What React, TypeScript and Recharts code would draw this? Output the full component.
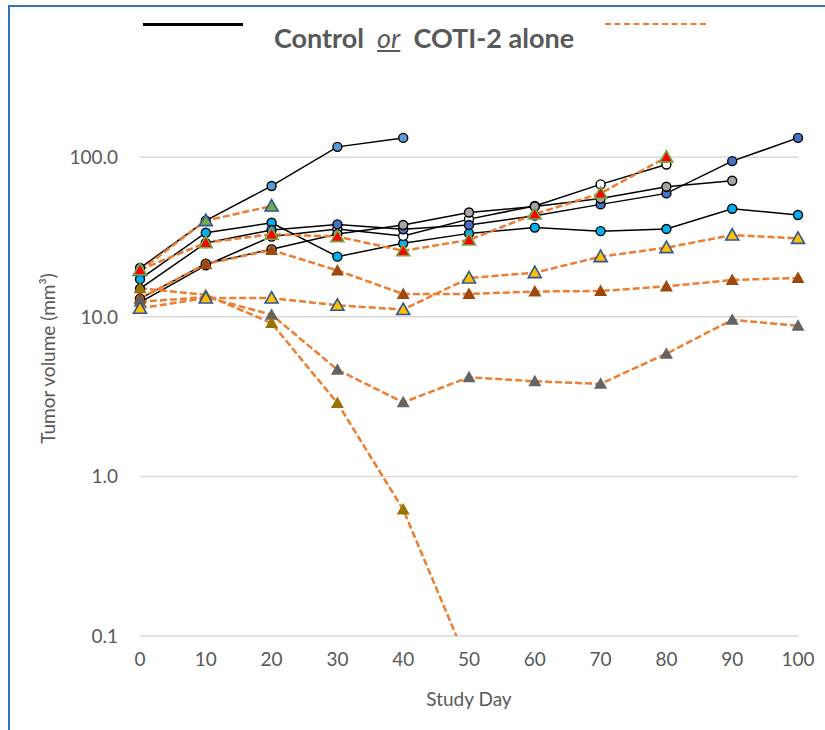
import { CartesianGrid, Line, LineChart, XAxis, YAxis } from "recharts";

// study days on the x axis
const days = [0, 10, 20, 30, 40, 50, 60, 70, 80, 90, 100];
const volumeTicks = [0.1, 1, 10, 100];

// control animals (solid black, circles)
const ctrlLightBlue = [20.2, 40, 66, 116, 132];
const ctrlCyan = [17.2, 33.6, 38.8, 23.8, 28.9, 33.3, 36.2, 34.4, 35.5, 47.5, 43.4];
const ctrlDarkBlue = [15, 29, 35, 37.9, 35.3, 37.6, 43, 50.6, 59.3, 94.4, 132];
const ctrlWhite = [12.3, 21, 31.8, 35.5, 32.1, 40.9, 49.5, 67.5, 90];
const ctrlGray = [13, 21.5, 26.5, 33, 37.6, 45, 49, 55, 65.3, 71.1];

// COTI-2 alone (dashed orange, triangles)
const cotiGreen = [19.5, 40, 49.4];
const cotiRed = [19.7, 29.1, 32.9, 31.8, 25.9, 30.3, 44, 59.3, 100];
const cotiBrown = [13, 21.4, 26.2, 19.5, 13.9, 13.9, 14.4, 14.5, 15.5, 17.0, 17.5];
const cotiGray = [12.4, 13.3, 10.3, 4.66, 2.91, 4.18, 3.94, 3.8, 5.87, 9.57, 8.78];
const cotiOlive = [15.1, 13.7, 9.13, 2.88, 0.62, 0.065];
const cotiYellow = [11.3, 13.1, 13.1, 11.8, 11.1, 17.5, 18.9, 23.8, 27.1, 32.5, 31.0];

type Series = {
  key: string;
  values: number[];
  kind: "ctrl" | "coti";
  fill: string;
  border?: string;
};

const series: Series[] = [
  { key: "c1", values: ctrlLightBlue, kind: "ctrl", fill: "#5B9BD5" },
  { key: "c2", values: ctrlCyan, kind: "ctrl", fill: "#00B0F0" },
  { key: "c4", values: ctrlWhite, kind: "ctrl", fill: "#FFFFFF" },
  { key: "c3", values: ctrlDarkBlue, kind: "ctrl", fill: "#4472C4" },
  { key: "c5", values: ctrlGray, kind: "ctrl", fill: "#A5A5A5" },
  { key: "t1", values: cotiGreen, kind: "coti", fill: "#70AD47", border: "#2F5597" },
  { key: "t2", values: cotiRed, kind: "coti", fill: "#FF0000", border: "#70AD47" },
  { key: "t3", values: cotiBrown, kind: "coti", fill: "#9E480E" },
  { key: "t5", values: cotiGray, kind: "coti", fill: "#636363" },
  { key: "t6", values: cotiOlive, kind: "coti", fill: "#997300" },
  { key: "t4", values: cotiYellow, kind: "coti", fill: "#FFC000", border: "#2F5597" },
];

const data = days.map((day, i) => {
  const row: Record<string, number | null> = { day };
  series.forEach((s) => {
    row[s.key] = s.values[i] ?? null;
  });
  return row;
});

const FONT = "Lato, 'Open Sans', sans-serif";
const TEXT = "#595959";

function circleDot(fill: string) {
  return (p: any) => {
    const k = `${p.dataKey}-${p.index}`;
    if (p.cx == null || p.cy == null || p.value == null) return <g key={k} />;
    return (
      <circle key={k} cx={p.cx} cy={p.cy} r={4.5} fill={fill} stroke="#000" strokeWidth={1.4} />
    );
  };
}

function triangleDot(fill: string, border?: string) {
  return (p: any) => {
    const k = `${p.dataKey}-${p.index}`;
    if (p.cx == null || p.cy == null || p.value == null) return <g key={k} />;
    const { cx, cy } = p;
    const pts = `${cx},${cy - 6.5} ${cx - 6.5},${cy + 5} ${cx + 6.5},${cy + 5}`;
    return (
      <polygon
        key={k}
        points={pts}
        fill={fill}
        stroke={border ?? "none"}
        strokeWidth={border ? 1.6 : 0}
      />
    );
  };
}

export default function App() {
  return (
    <div
      style={{
        position: "absolute",
        left: 0,
        top: 0,
        width: 825,
        height: 730,
        background: "#fff",
        overflow: "hidden",
        fontFamily: FONT,
      }}
    >
      <div
        style={{
          position: "absolute",
          left: 8,
          top: 5,
          width: 840,
          height: 760,
          border: "2px solid #2E75B6",
        }}
      />
      {/* title with line-style keys */}
      <div
        style={{
          position: "absolute",
          left: 143,
          top: 23,
          width: 100,
          height: 0,
          borderTop: "3px solid #000",
        }}
      />
      <div
        style={{
          position: "absolute",
          left: 605,
          top: 23,
          width: 101,
          height: 0,
          borderTop: "2.5px dashed #ED7D31",
        }}
      />
      <div
        style={{
          position: "absolute",
          left: 0,
          top: 21,
          width: 848,
          textAlign: "center",
          fontSize: 27,
          fontWeight: 700,
          color: TEXT,
          whiteSpace: "pre",
        }}
      >
        Control{"  "}
        <span style={{ fontStyle: "italic", fontWeight: 400, textDecoration: "underline" }}>or</span>
        {"  "}COTI-2 alone
      </div>
      <div style={{ position: "absolute", left: 0, top: 0 }}>
        <LineChart
          width={825}
          height={730}
          data={data}
          margin={{ top: 81, right: 27, bottom: 0, left: 0 }}
        >
          <CartesianGrid
            vertical={false}
            horizontalValues={volumeTicks}
            stroke="#D9D9D9"
            strokeWidth={1.5}
          />
          <XAxis
            dataKey="day"
            type="number"
            domain={[0, 100]}
            ticks={days}
            axisLine={false}
            tickLine={false}
            tickMargin={11}
            height={94}
            tick={{ fontSize: 19, fill: TEXT, fontFamily: FONT }}
            label={{
              value: "Study Day",
              position: "insideBottom",
              offset: 24,
              fontSize: 19,
              fill: TEXT,
              fontFamily: FONT,
            }}
          />
          <YAxis
            type="number"
            scale="log"
            domain={[0.1, 300]}
            allowDataOverflow
            ticks={volumeTicks}
            tickFormatter={(v: number) => v.toFixed(1)}
            axisLine={false}
            tickLine={false}
            tickMargin={16}
            width={140}
            tick={{ fontSize: 19, fill: TEXT, fontFamily: FONT }}
            label={{
              value: "Tumor volume (mm³)",
              angle: -90,
              position: "center",
              dx: -22,
              fontSize: 19,
              fill: TEXT,
              fontFamily: FONT,
            }}
          />
          {series.map((s) =>
            s.kind === "ctrl" ? (
              <Line
                key={s.key}
                dataKey={s.key}
                type="linear"
                stroke="#000"
                strokeWidth={1.5}
                dot={circleDot(s.fill)}
                activeDot={false}
                isAnimationActive={false}
              />
            ) : (
              <Line
                key={s.key}
                dataKey={s.key}
                type="linear"
                stroke="#ED7D31"
                strokeWidth={2.5}
                strokeDasharray="7 3"
                dot={triangleDot(s.fill, s.border)}
                activeDot={false}
                isAnimationActive={false}
              />
            )
          )}
        </LineChart>
      </div>
    </div>
  );
}
